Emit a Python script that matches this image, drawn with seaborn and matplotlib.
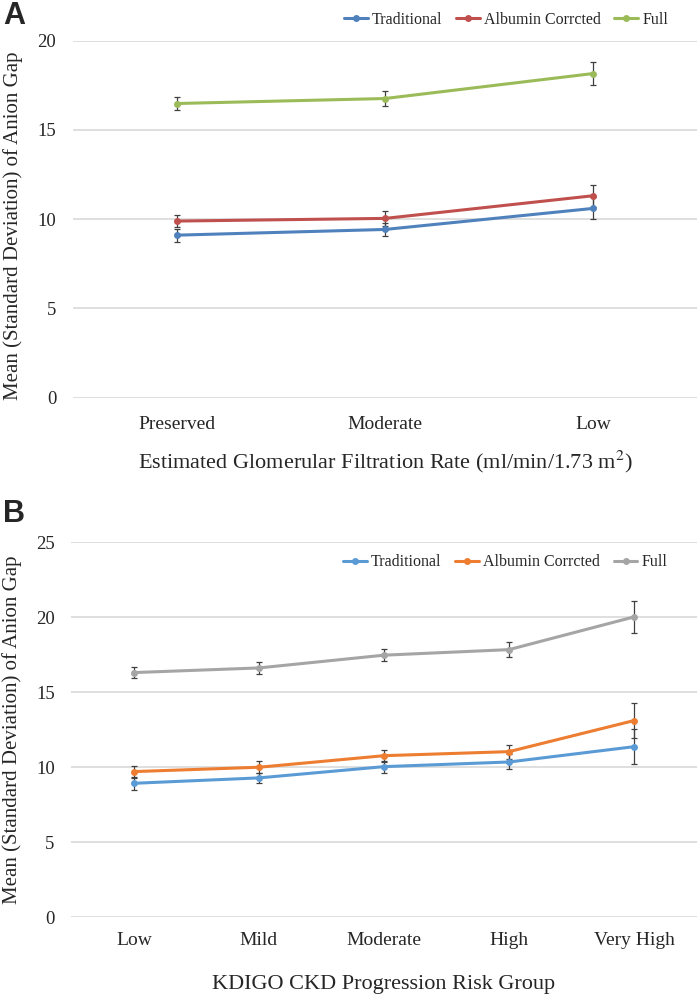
import numpy as np
import pandas as pd
import matplotlib
matplotlib.use('Agg')
import matplotlib.pyplot as plt
import seaborn as sns

# panel A: eGFR groups
gfr_groups = ['Preserved', 'Moderate', 'Low']
gfr_traditional = [9.10, 9.42, 10.60]
gfr_traditional_sd = [0.37, 0.38, 0.62]
gfr_albumin = [9.89, 10.04, 11.31]
gfr_albumin_sd = [0.35, 0.42, 0.63]
gfr_full = [16.48, 16.76, 18.16]
gfr_full_sd = [0.35, 0.43, 0.63]

# panel B: KDIGO risk groups
kdigo_groups = ['Low', 'Mild', 'Moderate', 'High', 'Very High']
kdigo_traditional = [8.93, 9.29, 10.04, 10.35, 11.37]
kdigo_traditional_sd = [0.42, 0.35, 0.40, 0.50, 1.15]
kdigo_albumin = [9.71, 10.00, 10.77, 11.04, 13.11]
kdigo_albumin_sd = [0.40, 0.39, 0.41, 0.47, 1.15]
kdigo_full = [16.31, 16.62, 17.47, 17.84, 20.02]
kdigo_full_sd = [0.37, 0.39, 0.41, 0.49, 1.06]

series_names = ['Traditional', 'Albumin Corrcted', 'Full']


def long_frame(groups, means, sds):
    rows = []
    for name, m, s in zip(series_names, means, sds):
        for g, v, e in zip(groups, m, s):
            rows.append({'group': g, 'series': name, 'mean': v, 'sd': e})
    return pd.DataFrame(rows)


def draw_panel(ax, df, groups, colors, ymax, xlabel, legend_y, xpad, labelpad, ylab_y):
    pal = dict(zip(series_names, colors))
    sns.lineplot(data=df, x='group', y='mean', hue='series', palette=pal,
                 sort=False, marker='o', markersize=5, markeredgewidth=0,
                 linewidth=2.2, ax=ax)
    for name in series_names:
        sub = df[df['series'] == name]
        ax.errorbar(sub['group'], sub['mean'], yerr=sub['sd'], fmt='none',
                    ecolor='#404040', elinewidth=0.9, capsize=2.5,
                    capthick=0.9, zorder=1)
    ax.set_xlim(-0.5, len(groups) - 0.5)
    ax.set_ylim(0, ymax)
    ax.set_yticks(np.arange(0, ymax + 1, 5))
    ax.grid(axis='y', color='#d9d9d9', linewidth=1.2)
    ax.grid(axis='x', visible=False)
    for sp in ax.spines.values():
        sp.set_visible(False)
    ax.tick_params(axis='x', length=0, pad=xpad, labelsize=14)
    ax.tick_params(axis='y', length=0, pad=12, labelsize=13.5)
    ax.set_xlabel(xlabel, fontsize=16, labelpad=labelpad)
    ax.set_ylabel('Mean (Standard Deviation) of Anion Gap', fontsize=15)
    ax.yaxis.set_label_coords(-0.079, ylab_y)
    handles, labels = ax.get_legend_handles_labels()
    ax.legend(handles, labels, ncol=3, frameon=False, fontsize=11.5,
              loc='center', bbox_to_anchor=(0.694, legend_y),
              handlelength=1.5, handletextpad=0.25, columnspacing=0.85)


sns.set_theme(style='whitegrid')
plt.rcParams['font.family'] = ['Liberation Serif', 'DejaVu Serif']
plt.rcParams['mathtext.fontset'] = 'stix'

fig = plt.figure(figsize=(7, 9.98), dpi=100)
ax_a = fig.add_axes([0.104, 0.6017, 0.892, 0.3575])
ax_b = fig.add_axes([0.102, 0.0809, 0.893, 0.3758])

df_a = long_frame(gfr_groups, [gfr_traditional, gfr_albumin, gfr_full],
                  [gfr_traditional_sd, gfr_albumin_sd, gfr_full_sd])
df_b = long_frame(kdigo_groups, [kdigo_traditional, kdigo_albumin, kdigo_full],
                  [kdigo_traditional_sd, kdigo_albumin_sd, kdigo_full_sd])

draw_panel(ax_a, df_a, gfr_groups, ['#4f81bd', '#c0504d', '#9bbb59'], 20,
           'Estimated Glomerular Filtration Rate (ml/min/1.73 m$^2$)', 1.058,
           13, 12, 0.48)
draw_panel(ax_b, df_b, kdigo_groups, ['#5b9bd5', '#ed7d31', '#a5a5a5'], 25,
           'KDIGO CKD Progression Risk Group', 0.947, 10.5, 19, 0.5)

fig.text(0.004, 0.984, 'A', fontsize=22, fontweight='bold',
         family='Liberation Sans', va='center')
fig.text(0.004, 0.485, 'B', fontsize=22, fontweight='bold',
         family='Liberation Sans', va='center')

fig.savefig('out.png', dpi=100)
